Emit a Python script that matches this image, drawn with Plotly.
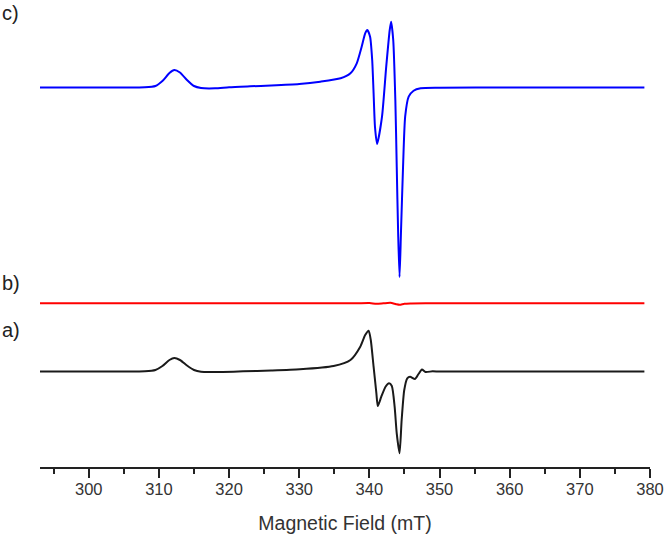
import plotly.graph_objects as go

# ---- data ----
field_c = [293, 300, 305, 308, 309.5, 310.5, 311.5, 312.2, 313, 314, 315, 316, 318, 320, 323, 326, 330,
           333, 335.9, 337.3, 338.2, 338.9, 339.4, 339.7, 340.1, 340.4, 340.6, 340.8, 341.1, 341.8,
           342.4, 342.9, 343.1, 343.4, 343.7, 343.9, 344.1, 344.3, 344.5, 344.8, 345.1, 345.6, 346.3,
           347.3, 350, 360, 370, 379.2]
signal_c = [0, 0, 0, 0.2, 1.5, 6.5, 14.5, 17.5, 15, 7.5, 1.5, -0.5, -0.8, 0.3, 1.2, 2.0, 3.5,
            5.8, 9.2, 14.2, 24.2, 40.8, 54.2, 57.5, 50.8, 27.5, -5.5, -39.5, -56.5, -29.2,
            20.8, 57.5, 65.8, 47.5, -12.5, -79.2, -145.5, -189.5, -145.5, -79.2, -29.2, -9.2, -3.2,
            -0.8, -0.3, 0, 0, 0]

field_b = [293, 310, 320, 330, 338, 340, 341, 342, 343, 343.8, 344.3, 345, 346, 348, 360, 379.2]
signal_b = [0, 0, 0, 0, 0, 0.3, -0.5, 0, 0.5, -0.9, -1.5, -0.5, -0.2, 0.1, 0, 0]

field_a = [293, 300, 305, 308, 309.5, 310.5, 311.5, 312.2, 313, 314, 315, 316, 318, 322, 326, 330.1,
           334.9, 337.3, 338.7, 339.4, 339.9, 340.2, 340.6, 341.0, 341.2, 341.7, 342.3, 342.8, 343.2,
           343.6, 343.9, 344.3, 344.6, 344.97, 345.4, 345.8, 346.5, 347.0, 347.5, 348, 349, 350, 360, 379.2]
signal_a = [0, 0, 0, 0.2, 1.5, 5.5, 11.5, 13.5, 11.5, 6, 1.5, -0.3, -0.5, 0.2, 1.0, 2.2,
            5.5, 11.5, 24.8, 36.5, 40.8, 31.5, 4.8, -21.8, -34.5, -25.2, -15.2, -11.8, -14.5,
            -35.2, -61.8, -81.8, -48.5, -18.5, -6.8, -5.2, -7.5, -2.5, 2.0, -0.5, 0.2, 0, 0, 0]

offsets = {"a": 95.5, "b": 163.7, "c": 379.5}
labels = ["a)", "b)", "c)"]
label_y = [137, 184, 454]

x_ticks = [300, 310, 320, 330, 340, 350, 360, 370, 380]

fig = go.Figure()
for fx, sy, key, col in [(field_a, signal_a, "a", "#1a1a1a"),
                          (field_b, signal_b, "b", "#ff0000"),
                          (field_c, signal_c, "c", "#0000ff")]:
    fig.add_trace(go.Scatter(
        x=fx, y=[v + offsets[key] for v in sy], mode="lines",
        line=dict(color=col, width=2, shape="spline", smoothing=0.6),
        showlegend=False, hoverinfo="skip"))

for lab, ly in zip(labels, label_y):
    fig.add_annotation(x=0, xref="paper", xshift=-40, y=ly, yref="y",
                       text=lab, showarrow=False, xanchor="left", yanchor="middle",
                       font=dict(family="Liberation Sans, Arial", size=20, color="#222222"))

fig.update_layout(
    width=666, height=534,
    margin=dict(l=40, r=16, t=10, b=67, autoexpand=False),
    paper_bgcolor="white", plot_bgcolor="white",
    xaxis=dict(range=[293.05, 380], tickvals=x_ticks, ticks="outside", ticklen=9,
               tickwidth=1.5, tickcolor="#222", showline=True, linecolor="#222", linewidth=1.5,
               showgrid=False, zeroline=False, ticklabelstandoff=-3, automargin=False,
               minor=dict(dtick=5, tick0=295, ticks="outside", ticklen=5, tickwidth=1.5,
                          tickcolor="#222", showgrid=False),
               tickfont=dict(family="Liberation Sans, Arial", size=16.5, color="#333"),
               title=dict(text="Magnetic Field (mT)", standoff=20,
                          font=dict(family="Liberation Sans, Arial", size=19.5, color="#333"))),
    yaxis=dict(range=[0, 457], visible=False, showgrid=False, zeroline=False),
)

fig.write_html("out.html", config={"displayModeBar": False},
               post_script="document.body.style.margin='0';document.body.style.overflow='hidden';")
